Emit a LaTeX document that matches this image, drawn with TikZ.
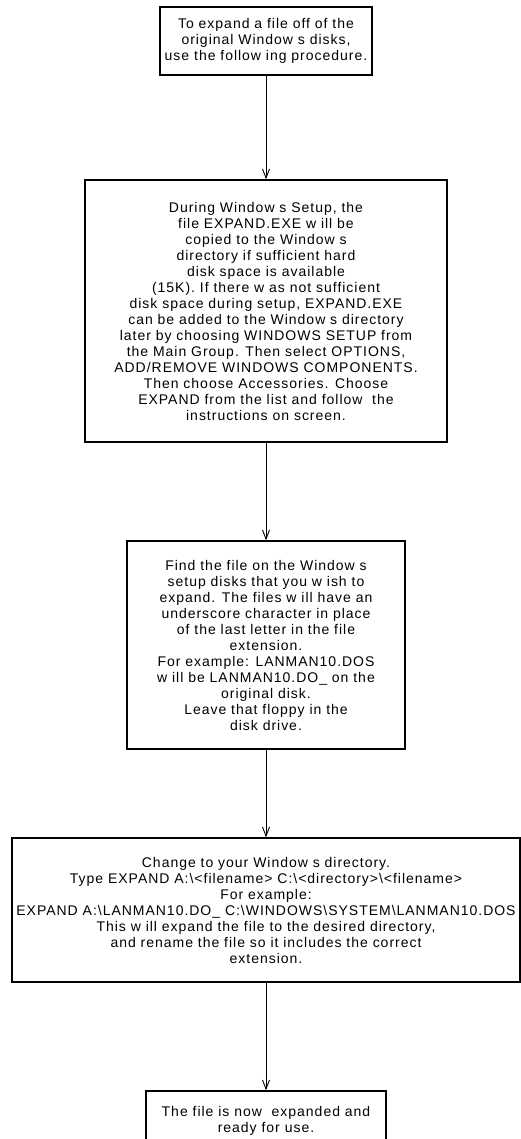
\documentclass[tikz,border=0pt]{standalone}
\usepackage{fontspec}
\usetikzlibrary{arrows.meta}
\newfontfamily\boxfont{Liberation Sans}[LetterSpace=7]

\tikzset{
  box/.style={draw, line width=1.6pt, align=center, inner sep=0pt,
    font=\boxfont\fontsize{14}{16}\selectfont},
  flow/.style={line width=0.9pt, -{Straight Barb[length=9pt,width=7pt]}}
}

\begin{document}
\begin{tikzpicture}[x=1pt,y=-1pt]
  \useasboundingbox (0,0) rectangle (521,1139);
  \node[box, minimum width=212, minimum height=68] (intro) at (266,41)
    {To expand a file off of the\\ original Window s disks,\\ use the follow ing procedure.};
  \node[box, minimum width=362, minimum height=262] (setup) at (266,311)
    {During Window s Setup, the\\ file EXPAND.EXE w ill be\\ copied to the Window s\\
     directory if sufficient hard\\ disk space is available\\ (15K). If there w as not sufficient\\
     disk space during setup, EXPAND.EXE\\ can be added to the Window s directory\\
     later by choosing WINDOWS SETUP from\\ the Main Group. Then select OPTIONS,\\
     ADD/REMOVE WINDOWS COMPONENTS.\\ Then choose Accessories. Choose\\
     EXPAND from the list and follow\ \ the\\ instructions on screen.};
  \node[box, minimum width=278, minimum height=208] (find) at (266,645)
    {Find the file on the Window s\\ setup disks that you w ish to\\ expand. The files w ill have an\\
     underscore character in place\\ of the last letter in the file\\ extension.\\
     For example: LANMAN10.DOS\\ w ill be LANMAN10.DO\_ on the\\ original disk.\\
     Leave that floppy in the\\ disk drive.};
  \node[box, minimum width=508, minimum height=144] (change) at (266,910)
    {Change to your Window s directory.\\
     Type EXPAND A:\textbackslash<filename> C:\textbackslash<directory>\textbackslash<filename>\\
     For example:\\
     EXPAND A:\textbackslash LANMAN10.DO\_ C:\textbackslash WINDOWS\textbackslash SYSTEM\textbackslash LANMAN10.DOS\\
     This w ill expand the file to the desired directory,\\
     and rename the file so it includes the correct\\ extension.};
  \node[box, minimum width=240, minimum height=60] (done) at (266,1121)
    {The file is now\ \ expanded and\\ ready for use.};
  \draw[flow] (intro) -- (setup);
  \draw[flow] (setup) -- (find);
  \draw[flow] (find) -- (change);
  \draw[flow] (change) -- (done);
\end{tikzpicture}
\end{document}
